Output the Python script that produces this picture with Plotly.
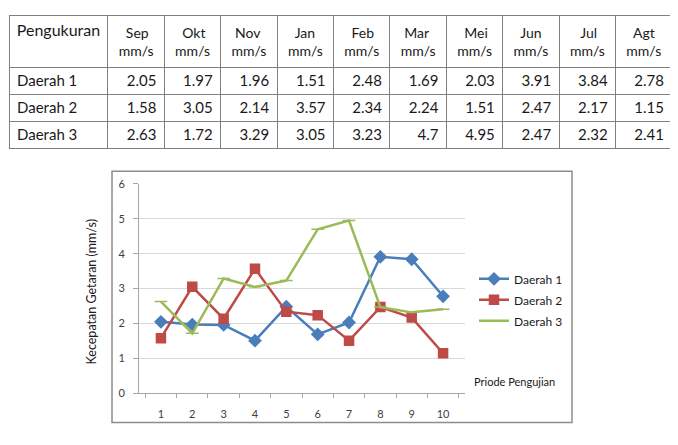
import plotly.graph_objects as go

months = ["Sep", "Okt", "Nov", "Jan", "Feb", "Mar", "Mei", "Jun", "Jul", "Agt"]
unit = "mm/s"
regions = ["Daerah 1", "Daerah 2", "Daerah 3"]
daerah1 = [2.05, 1.97, 1.96, 1.51, 2.48, 1.69, 2.03, 3.91, 3.84, 2.78]
daerah2 = [1.58, 3.05, 2.14, 3.57, 2.34, 2.24, 1.51, 2.47, 2.17, 1.15]
daerah3 = [2.63, 1.72, 3.29, 3.05, 3.23, 4.7, 4.95, 2.47, 2.32, 2.41]
periods = [str(i) for i in range(1, 11)]
y_ticks = [0, 1, 2, 3, 4, 5, 6]

# page body has an 8px margin; figure sized to the visible area
OFF = 8
W, H = 678 - OFF, 445 - OFF
def px(x): return min(1, max(0, (x - OFF) / W))
def py(y): return min(1, max(0, 1 - (y - OFF) / H))

FONT = "Lato, Carlito, Calibri, 'Liberation Sans', sans-serif"

series = [daerah1, daerah2, daerah3]
fmt = lambda v: ("%g" % v)

# Plotly centres a multi-line header as a block; pad the short first line so it sits centred
NB = "\u00a0"
HEAD_PAD = {"Jul": 3, "Nov": 1, "Mar": 1}
header = ["Pengukuran"] + [NB * HEAD_PAD.get(m, 2) + f"{m}<br>{unit}" for m in months]
cells = [regions] + [[fmt(s[i]) for s in series] for i in range(len(months))]

fig = go.Figure()

fig.add_trace(go.Table(
    domain=dict(x=[px(9), px(672)], y=[py(170), py(9)]),
    columnwidth=[100] + [57] * 10,
    header=dict(values=header, height=47, fill_color="white",
                line=dict(color="#808080", width=1),
                align=["center"] * 11,
                font=dict(family=FONT, size=[16] + [14] * 10, color="#1a1a1a")),
    cells=dict(values=cells, height=27, fill_color="white",
               line=dict(color="#808080", width=1),
               align=["left"] + ["right"] * 10,
               font=dict(family=FONT, size=15, color="#1a1a1a")),
))

colors = ["#4A7EBB", "#BE4B48", "#9BBB59"]
symbols = ["diamond", "square", "line-ew"]
sizes = [9, 9, 9]
for name, vals, c, sym, sz in zip(regions, series, colors, symbols, sizes):
    fig.add_trace(go.Scatter(
        x=periods, y=vals, name=name, mode="lines+markers", legendgroup=name,
        line=dict(color=c, width=2.5),
        marker=dict(symbol=sym, size=sz, color=c, line=dict(color=c, width=1.5)),
    ))

fig.update_layout(
    width=W, height=H, margin=dict(l=0, r=0, t=0, b=0),
    paper_bgcolor="white", plot_bgcolor="white",
    font=dict(family=FONT, color="#404040"),
    showlegend=True,
    legend=dict(x=px(474), y=py(265), xanchor="left", yanchor="top",
                font=dict(family=FONT, size=12, color="#1a1a1a"),
                bgcolor="rgba(0,0,0,0)", itemwidth=30, tracegroupgap=2),
    xaxis=dict(domain=[px(139), px(465)], anchor="y", type="category",
               showgrid=False, showline=True, linecolor="#A6A6A6",
               ticks="outside", tickson="boundaries", ticklen=4, tickcolor="#A6A6A6",
               ticklabelstandoff=10,
               tickfont=dict(size=11, color="#404040")),
    yaxis=dict(domain=[py(398), py(182)], anchor="x", range=[0, 6],
               tickvals=y_ticks, showgrid=True, gridcolor="#D9D9D9",
               showline=True, linecolor="#A6A6A6", zeroline=False,
               ticks="outside", ticklen=5, tickcolor="#A6A6A6",
               ticklabelstandoff=6,
               tickfont=dict(size=11, color="#404040")),
    shapes=[dict(type="rect", xref="paper", yref="paper",
                 x0=px(112), x1=px(572), y0=py(428), y1=py(169),
                 line=dict(color="#8C8C8C", width=1.5), layer="below")],
    annotations=[
        dict(text="Priode Pengujian", xref="paper", yref="paper",
             x=px(472), y=py(386), xanchor="left", yanchor="middle",
             showarrow=False, font=dict(family=FONT, size=11, color="#1a1a1a")),
        dict(text="Kecepatan Getaran (mm/s)", xref="paper", yref="paper",
             x=px(91), y=py(294), xanchor="center", yanchor="middle",
             textangle=-90, showarrow=False,
             font=dict(family=FONT, size=12.5, color="#1a1a1a")),
    ],
)

fig.write_html("out.html")
